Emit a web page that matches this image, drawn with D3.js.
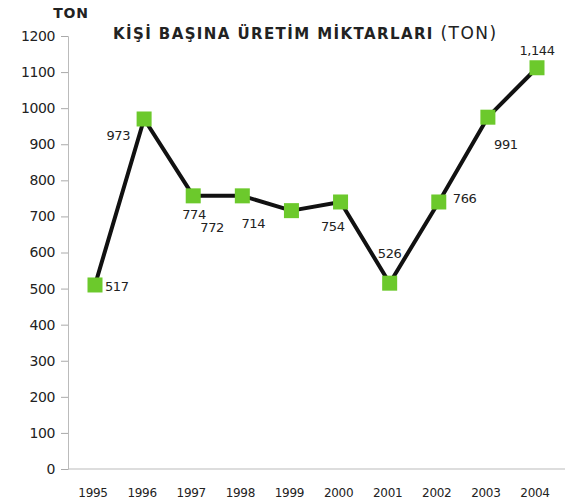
<!DOCTYPE html>
<html>
<head>
<meta charset="utf-8">
<script src="https://cdn.jsdelivr.net/npm/d3@7"></script>
<style>
  body { margin: 0; background: #fff; }
  text { font-family: "DejaVu Sans", "Liberation Sans", sans-serif; fill: #222; }
</style>
</head>
<body>
<div id="chart"></div>
<script>
// years on the x axis
var years = ["1995", "1996", "1997", "1998", "1999", "2000", "2001", "2002", "2003", "2004"]
// plotted values
var values = [510, 970, 757, 757, 716, 740, 515, 740, 975, 1112]
// the printed labels next to each marker
var pointLabels = ["517", "973", "774", "772", "714", "754", "526", "766", "991", "1,144"]
var yTicks = [0, 100, 200, 300, 400, 500, 600, 700, 800, 900, 1000, 1100, 1200]

// where each label sits relative to its marker: [dx, dy, anchor]
var labelPos = [
    [10, 6, "start"], [-14, 21, "end"], [-11, 23, "start"], [-42, 36, "start"],
    [-50, 17, "start"], [4, 29, "end"], [0, -25, "middle"], [14, 1, "start"],
    [18, 32, "middle"], [0, -13, "middle"]
]

var width = 581, height = 504
var svg = d3.select("#chart").append("svg")
    .attr("width", width)
    .attr("height", height)

var xScale = d3.scalePoint()
    .domain(years)
    .range([95, 537])

var yScale = d3.scaleLinear()
    .domain([0, 1200])
    .range([469, 36])

// y axis
var yAxis = svg.append("g")
    .attr("transform", "translate(68,0)")
    .call(d3.axisLeft(yScale).tickValues(yTicks).tickFormat(d3.format("d")).tickSize(7).tickPadding(6))
yAxis.select(".domain").attr("stroke", "#bbb").attr("stroke-width", 1)
yAxis.selectAll(".tick line").attr("stroke", "#aaa")
yAxis.selectAll(".tick text")
    .style("font-family", "'DejaVu Sans', sans-serif")
    .style("font-size", "14px")
    .style("letter-spacing", "-0.4px")
    .attr("fill", "#222")

// x axis line
svg.append("line")
    .attr("x1", 68).attr("x2", 565)
    .attr("y1", yScale(0)).attr("y2", yScale(0))
    .attr("stroke", "#bbb")

svg.selectAll(".xlab")
    .data(years)
  .enter().append("text")
    .attr("class", "xlab")
    .attr("x", function(d) { return xScale(d) - 2 })
    .attr("y", 497)
    .attr("text-anchor", "middle")
    .style("font-size", "12px")
    .style("letter-spacing", "-0.3px")
    .text(function(d) { return d })

// unit label
svg.append("text")
    .attr("x", 71).attr("y", 18)
    .attr("text-anchor", "middle")
    .style("font-size", "14px")
    .style("font-weight", "bold")
    .style("letter-spacing", "0.8px")
    .text("TON")

// title
var title = svg.append("text")
    .attr("x", 113).attr("y", 39)
title.append("tspan")
    .style("font-size", "15px")
    .style("font-weight", "bold")
    .style("letter-spacing", "1.4px")
    .text("KİŞİ BAŞINA ÜRETİM MİKTARLARI ")
title.append("tspan")
    .style("font-size", "17px")
    .style("letter-spacing", "1.5px")
    .text("(TON)")

var line = d3.line()
    .x(function(d, i) { return xScale(years[i]) })
    .y(function(d) { return yScale(d) })

svg.append("path")
    .datum(values)
    .attr("fill", "none")
    .attr("stroke", "#111")
    .attr("stroke-width", 4)
    .attr("stroke-linejoin", "round")
    .attr("d", line)

var s = 15
svg.selectAll(".dot")
    .data(values)
  .enter().append("rect")
    .attr("class", "dot")
    .attr("x", function(d, i) { return xScale(years[i]) - s / 2 })
    .attr("y", function(d) { return yScale(d) - s / 2 })
    .attr("width", s)
    .attr("height", s)
    .attr("fill", "#6cc92c")

svg.selectAll(".plab")
    .data(values)
  .enter().append("text")
    .attr("class", "plab")
    .attr("x", function(d, i) { return xScale(years[i]) + labelPos[i][0] })
    .attr("y", function(d, i) { return yScale(d) + labelPos[i][1] })
    .attr("text-anchor", function(d, i) { return labelPos[i][2] })
    .style("font-size", "13px")
    .style("letter-spacing", "-0.4px")
    .text(function(d, i) { return pointLabels[i] })
</script>
</body>
</html>
